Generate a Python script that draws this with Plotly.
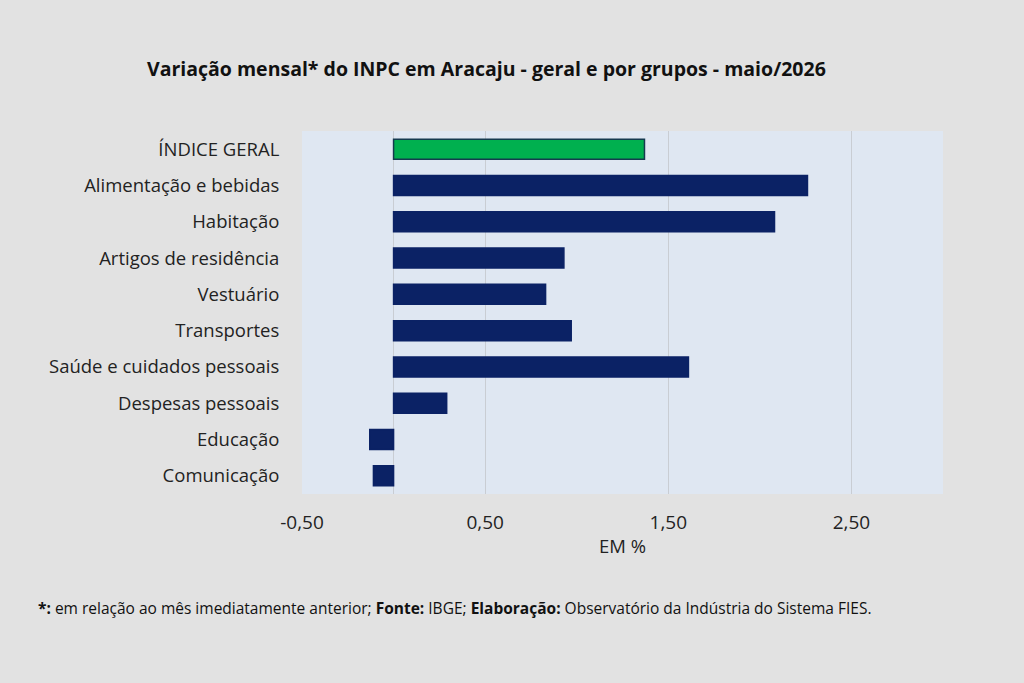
import plotly.graph_objects as go

categories = ["ÍNDICE GERAL", "Alimentação e bebidas", "Habitação", "Artigos de residência",
              "Vestuário", "Transportes", "Saúde e cuidados pessoais", "Despesas pessoais",
              "Educação", "Comunicação"]
values = [1.37, 2.26, 2.08, 0.93, 0.83, 0.97, 1.61, 0.29, -0.13, -0.11]
tick_vals = [-0.5, 0.5, 1.5, 2.5]
tick_text = ["-0,50", "0,50", "1,50", "2,50"]

colors = ["#00b04f"] + ["#0b2265"] * (len(categories) - 1)
line_colors = ["#153a4f"] + ["#0b2265"] * (len(categories) - 1)

fig = go.Figure()
fig.add_trace(go.Bar(
    y=categories, x=values, orientation="h",
    marker=dict(color=colors, line=dict(color=line_colors, width=1.5)),
    width=0.55,
))

fig.update_layout(
    width=1024, height=683,
    paper_bgcolor="#e2e2e2", plot_bgcolor="#dfe7f2",
    margin=dict(l=302, r=81, t=131, b=189),
    font=dict(family="Open Sans", color="#222222"),
    showlegend=False,
    title=dict(text="<b>Variação mensal* do INPC em Aracaju - geral e por grupos - maio/2026</b>",
               x=0.475, xanchor="center", y=0.898, yanchor="middle",
               font=dict(size=19.5, color="#111111")),
    xaxis=dict(range=[-0.5, 3.0], tickvals=tick_vals, ticktext=tick_text,
               showgrid=True, gridcolor="#c9cdd3", gridwidth=1,
               zeroline=True, zerolinecolor="#c9cdd3", zerolinewidth=1,
               tickfont=dict(size=19, color="#222222"),
               ticks="outside", ticklen=11, tickcolor="rgba(0,0,0,0)",
               title=dict(text="EM %", font=dict(size=18.5, color="#222222"), standoff=6)),
    yaxis=dict(autorange="reversed", tickfont=dict(size=18.5, color="#222222"),
               ticks="outside", ticklen=18, tickcolor="rgba(0,0,0,0)", showgrid=False),
)

fig.add_annotation(
    text="<b>*:</b> em relação ao mês imediatamente anterior; <b>Fonte:</b> IBGE; <b>Elaboração:</b> Observatório da Indústria do Sistema FIES.",
    xref="paper", yref="paper", x=(36 - 302) / 641, y=(494 - 608) / 363,
    xanchor="left", yanchor="middle", showarrow=False,
    font=dict(size=15.5, color="#111111"),
)

fig.write_html("out.html")
